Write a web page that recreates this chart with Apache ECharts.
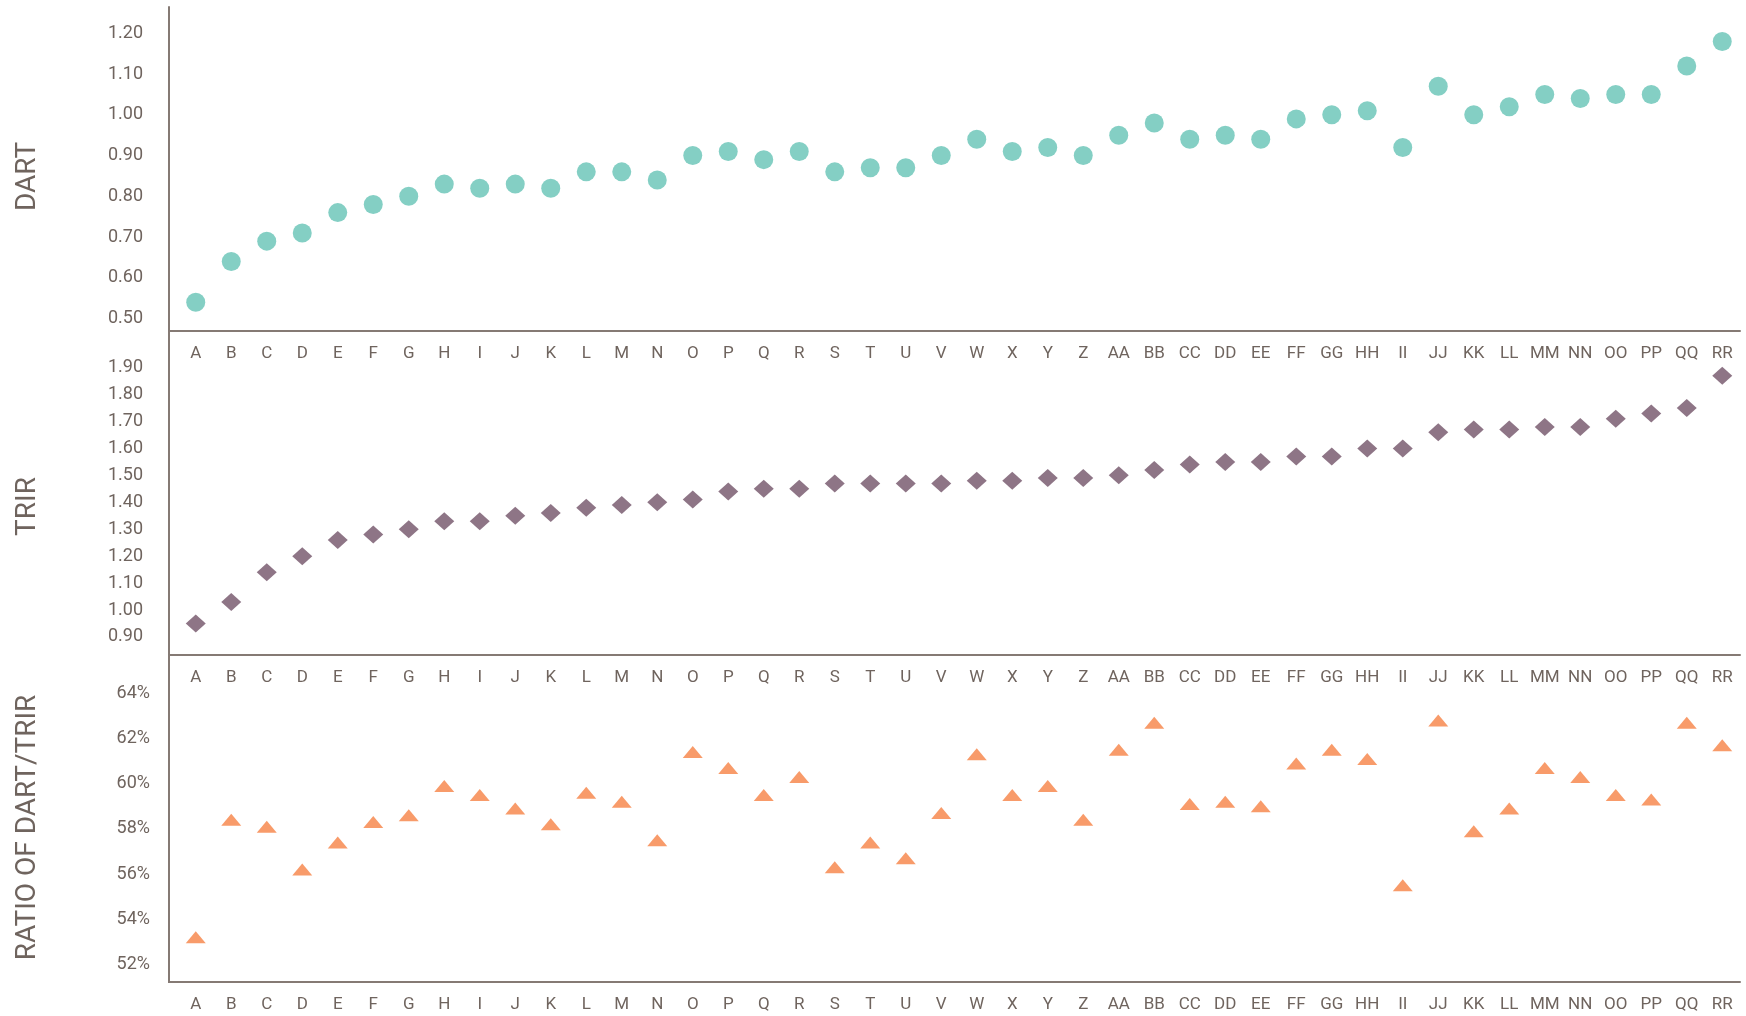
<!DOCTYPE html>
<html><head><meta charset="utf-8">
<script src="https://cdn.jsdelivr.net/npm/echarts@6/dist/echarts.min.js"></script>
<style>html,body{margin:0;padding:0;background:#fff}#c{width:1746px;height:1016px}</style>
</head><body><div id="c"></div>
<script>
const categories = ['A','B','C','D','E','F','G','H','I','J','K','L','M','N','O','P','Q','R','S','T','U','V','W','X','Y','Z',
  'AA','BB','CC','DD','EE','FF','GG','HH','II','JJ','KK','LL','MM','NN','OO','PP','QQ','RR'];

const dartValues = [0.54,0.64,0.69,0.71,0.76,0.78,0.80,0.83,0.82,0.83,0.82,0.86,0.86,0.84,0.90,0.91,0.89,0.91,0.86,0.87,0.87,0.90,0.94,0.91,0.92,0.90,
  0.95,0.98,0.94,0.95,0.94,0.99,1.00,1.01,0.92,1.07,1.00,1.02,1.05,1.04,1.05,1.05,1.12,1.18];

const trirValues = [0.95,1.03,1.14,1.20,1.26,1.28,1.30,1.33,1.33,1.35,1.36,1.38,1.39,1.40,1.41,1.44,1.45,1.45,1.47,1.47,1.47,1.47,1.48,1.48,1.49,1.49,
  1.50,1.52,1.54,1.55,1.55,1.57,1.57,1.60,1.60,1.66,1.67,1.67,1.68,1.68,1.71,1.73,1.75,1.87];

const ratioValues = [53.2,58.4,58.1,56.2,57.4,58.3,58.6,59.9,59.5,58.9,58.2,59.6,59.2,57.5,61.4,60.7,59.5,60.3,56.3,57.4,56.7,58.7,61.3,59.5,59.9,58.4,
  61.5,62.7,59.1,59.2,59.0,60.9,61.5,61.1,55.5,62.8,57.9,58.9,60.7,60.3,59.5,59.3,62.7,61.7];

const dartTickLabels = ['0.50','0.60','0.70','0.80','0.90','1.00','1.10','1.20'];
const trirTickLabels = ['0.90','1.00','1.10','1.20','1.30','1.40','1.50','1.60','1.70','1.80','1.90'];
const ratioTickLabels = ['52%','54%','56%','58%','60%','62%','64%'];

const axisColor = '#857a74';
const textColor = '#6f645e';
const font = 'Roboto';

const gridTop = [7, 331, 655];
const gridHeight = [324, 324, 327];

const chart = echarts.init(document.getElementById('c'), null, {renderer: 'canvas'});

function yAxisCfg(i, name, min, max, step, labels, fmt, margin, namePad) {
  return {
    gridIndex: i, type: 'value', min: min, max: max, minInterval: step, maxInterval: step,
    offset: 9,
    axisLine: {show: true, onZero: false, lineStyle: {color: axisColor, width: 2}},
    axisTick: {show: false}, splitLine: {show: false},
    axisLabel: {color: textColor, fontSize: 18, fontFamily: font, margin: margin,
      formatter: function (v) { const s = fmt(v); return labels.indexOf(s) >= 0 ? s : ''; }},
    name: name, nameLocation: 'middle', nameRotate: 90, nameGap: 127,
    nameTextStyle: {fontSize: 28, color: textColor, fontFamily: font, padding: [0, namePad, 0, 0]}
  };
}
function xAxisCfg(i) {
  return {
    gridIndex: i, type: 'category', data: categories, boundaryGap: true,
    axisLine: {show: true, onZero: false, lineStyle: {color: axisColor, width: 2}},
    axisTick: {show: false}, splitLine: {show: false},
    axisLabel: {interval: 0, color: textColor, fontSize: 17, fontFamily: font, margin: 14}
  };
}

const option = {
  backgroundColor: '#ffffff',
  animation: false,
  grid: gridTop.map((t, i) => ({left: 178, right: 6, top: t, height: gridHeight[i], containLabel: false})),
  xAxis: [xAxisCfg(0), xAxisCfg(1), xAxisCfg(2)],
  yAxis: [
    yAxisCfg(0, 'DART', 0.4695, 1.2646, 0.1, dartTickLabels, v => v.toFixed(2), 26, 15),
    yAxisCfg(1, 'TRIR', 0.833, 2.036, 0.1, trirTickLabels, v => v.toFixed(2), 26, 27),
    yAxisCfg(2, 'RATIO OF DART/TRIR', 51.22, 65.70, 2, ratioTickLabels,
      v => (Math.abs(v - Math.round(v)) < 1e-6 ? Math.round(v) + '%' : ''), 19, 18)
  ],
  series: [
    {type: 'scatter', xAxisIndex: 0, yAxisIndex: 0, data: dartValues, symbol: 'circle', symbolSize: 19,
      itemStyle: {color: '#84cfc4', opacity: 1}},
    {type: 'scatter', xAxisIndex: 1, yAxisIndex: 1, data: trirValues, symbol: 'diamond', symbolSize: [20, 18],
      itemStyle: {color: '#8e7586', opacity: 1}},
    {type: 'scatter', xAxisIndex: 2, yAxisIndex: 2, data: ratioValues, symbol: 'triangle', symbolSize: [20, 12],
      itemStyle: {color: '#f89b6a', opacity: 1}}
  ],
  graphic: gridTop.map((t, i) => ({
    type: 'line', silent: true,
    shape: {x1: 168, y1: t + gridHeight[i], x2: 179, y2: t + gridHeight[i]},
    style: {stroke: axisColor, lineWidth: 2}
  }))
};
chart.setOption(option);
</script></body></html>
